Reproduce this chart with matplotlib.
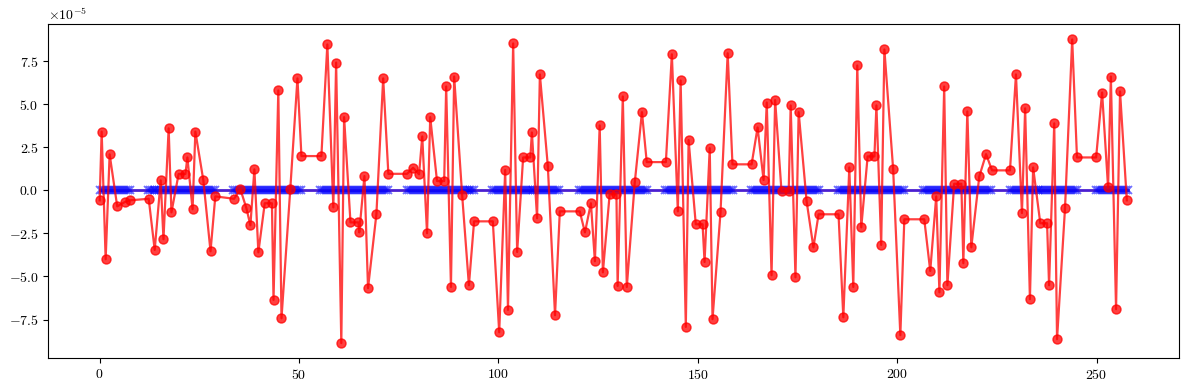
"""
Red vs blue trace, values in 1e-5
"""
import numpy as np
import matplotlib
matplotlib.use("Agg")
import matplotlib.pyplot as plt

plt.rcParams['font.family'] = 'serif'
plt.rcParams['font.serif'] = ['cmr10']
plt.rcParams['mathtext.fontset'] = 'cm'
plt.rcParams['axes.formatter.use_mathtext'] = True

# sample positions
t = [0.0, 0.5, 1.5, 2.5, 4.4, 6.3, 7.5,
     12.3, 13.8, 15.3, 16.0, 17.3, 18.0, 19.8, 21.5, 22.0, 23.3, 24.0, 26.0, 27.8, 29.0,
     33.7, 35.3, 36.8, 37.8, 38.8, 39.8, 41.4, 43.2, 43.6, 44.8, 45.6, 47.8, 49.6, 50.6,
     55.6, 57.1, 58.6, 59.3, 60.6, 61.3, 62.9, 64.9, 65.1, 66.4, 67.3, 69.4, 71.1, 72.4,
     77.1, 78.6, 80.1, 80.9, 82.1, 82.9, 84.6, 86.4, 86.9, 88.1, 88.9, 90.9, 92.6, 93.9,
     98.6, 100.2, 101.7, 102.4, 103.7, 104.7, 106.2, 108.0, 108.4, 109.7, 110.4, 112.4, 114.2, 115.4,
     120.4, 121.7, 123.2, 124.2, 125.4, 126.2, 127.9, 129.6, 129.9, 131.2, 132.2, 134.2, 136.0, 137.2,
     142.0, 143.5, 145.0, 145.7, 147.0, 147.7, 149.5, 151.2, 151.7, 153.0, 153.7, 155.7, 157.5, 158.7,
     163.5, 165.0, 166.5, 167.3, 168.5, 169.4, 171.0, 172.8, 173.3, 174.5, 175.3, 177.3, 179.0, 180.3,
     185.3, 186.5, 188.0, 189.0, 190.0, 191.0, 192.6, 194.3, 194.8, 196.0, 196.8, 199.0, 200.8, 201.8,
     206.8, 208.3, 209.8, 210.6, 211.8, 212.6, 214.3, 216.1, 216.6, 217.6, 218.6, 220.6, 222.3, 223.8,
     228.3, 229.8, 231.3, 232.1, 233.3, 234.1, 235.9, 237.6, 238.1, 239.4, 240.1, 242.1, 243.9, 245.1,
     249.9, 251.4, 252.9, 253.6, 254.9, 255.9, 257.6]

# red series (x 1e-5)
red = [-0.58, 3.41, -4.0, 2.09, -0.93, -0.68, -0.58,
       -0.49, -3.46, 0.58, -2.84, 3.6, -1.28, 0.95, 0.95, 1.91, -1.1, 3.41, 0.58, -3.54, -0.35,
       -0.49, 0.06, -1.04, -2.03, 1.22, -3.6, -0.75, -0.75, -6.36, 5.8, -7.43, 0.06, 6.5, 1.99,
       1.99, 8.47, -0.99, 7.42, -8.87, 4.25, -1.86, -1.86, -2.44, 0.83, -5.68, -1.39, 6.5, 0.96,
       0.96, 1.31, 0.93, 3.13, -2.49, 4.25, 0.54, 0.54, 6.03, -5.61, 6.61, -0.25, -5.51, -1.8,
       -1.8, -8.24, 1.18, -6.94, 8.53, -3.58, 1.91, 1.91, 3.36, -1.62, 6.73, 1.39, -7.25, -1.22,
       -1.22, -2.44, -0.75, -4.12, 3.77, -4.76, -0.23, -0.23, -5.55, 5.45, -5.61, 0.46, 4.54, 1.64,
       1.64, 7.9, -1.22, 6.38, -7.93, 2.92, -1.97, -1.97, -4.16, 2.45, -7.48, -1.28, 7.96, 1.51,
       1.51, 3.65, 0.6, 5.1, -4.93, 5.24, -0.06, -0.06, 4.93, -5.05, 4.54, -0.64, -3.31, -1.39,
       -1.39, -7.37, 1.33, -5.61, 7.25, -2.15, 1.97, 1.97, 4.93, -3.17, 8.18, 1.22, -8.41, -1.68,
       -1.68, -4.68, -0.35, -5.92, 6.03, -5.51, 0.38, 0.38, -4.23, 4.58, -3.31, 0.81, 2.1, 1.16,
       1.16, 6.73, -1.32, 4.76, -6.32, 1.33, -1.91, -1.91, -5.51, 3.89, -8.64, -1.04, 8.76, 1.91,
       1.91, 5.68, 0.17, 6.61, -6.9, 5.74, -0.58]

# blue series: dense runs that sit on zero, separated by short gaps
blue_start = [0.0, 12.0, 33.5, 55.2, 77.0, 98.3, 120.2, 141.8, 163.4, 185.2, 206.6, 228.2, 249.8]
blue_end = [7.6, 29.0, 50.8, 72.5, 94.0, 115.5, 137.3, 158.8, 180.4, 201.9, 223.8, 245.2, 257.8]
blue_step = 0.5
blue_level = 0.0

t = np.array(t)
red = np.array(red) * 1e-5

tb = np.concatenate([np.arange(s, e + 1e-9, blue_step) for s, e in zip(blue_start, blue_end)])
blue = np.full(len(tb), blue_level) * 1e-5

fig = plt.figure(figsize=(11.89, 3.9), dpi=100)
plt.plot(tb, blue, '-', color='#4b1fd0', linewidth=2)
plt.plot(tb, blue, 'x', color='b', markersize=6, alpha=0.55, markeredgewidth=1.3)
plt.plot(t, red, 'o-', color='r', markersize=6.5, linewidth=1.6, alpha=0.75)
plt.subplots_adjust(left=0.0406, right=0.9916, top=0.9377, bottom=0.0813)
plt.savefig('out.png')
